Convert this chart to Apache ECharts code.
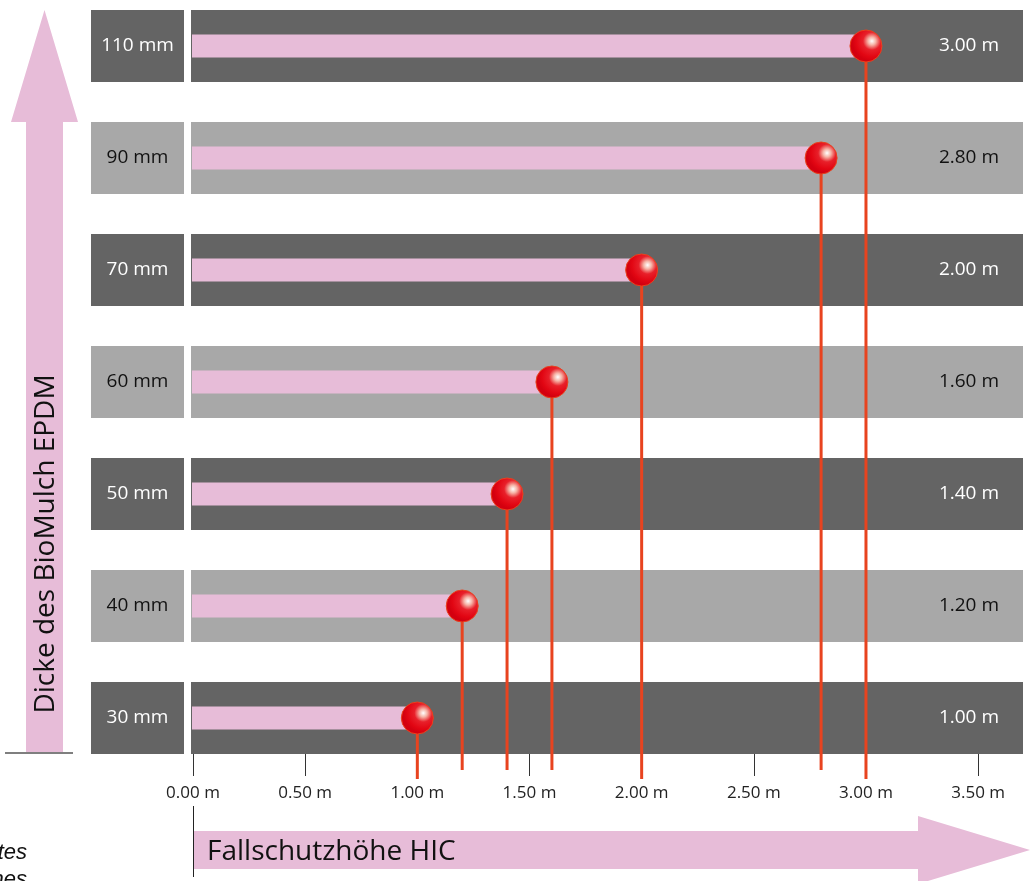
<!DOCTYPE html>
<html>
<head>
<meta charset="utf-8">
<script src="https://cdn.jsdelivr.net/npm/echarts@6/dist/echarts.min.js"></script>
<style>
html,body{margin:0;padding:0;background:#fff}
#chart{width:1034px;height:881px}
</style>
</head>
<body>
<div id="chart"></div>
<script>
// Dicke (von unten nach oben) und Fallschutzhöhe
var thickness=['30 mm','40 mm','50 mm','60 mm','70 mm','90 mm','110 mm'];
var fallHeight=[1.00,1.20,1.40,1.60,2.00,2.80,3.00];
var tickValues=[0,0.5,1,1.5,2,2.5,3,3.5];

var pink='#e7bcd8';
var dark='#646464', light='#a8a8a8';
var font='"Open Sans","Noto Sans",sans-serif';

var chart=echarts.init(document.getElementById('chart'));

var points=fallHeight.map(function(v,i){return [v,i];});

// Balken + Kugel + Lot
function renderMarker(params,api){
	var v=api.value(0), i=api.value(1);
	var p=api.coord([v,i]);
	var z=api.coord([0,i]);
	var cs=params.coordSys;
	var bottom=cs.y+cs.height;
	var onTick=Math.abs(v*2-Math.round(v*2))<1e-6;
	return {
		type:'group',
		children:[
			{type:'rect',shape:{x:z[0]-1,y:p[1]-11.5,width:p[0]-z[0]+1,height:23},style:{fill:pink}},
			{type:'line',shape:{x1:p[0],y1:p[1],x2:p[0],y2:onTick?bottom+5:bottom-4},style:{stroke:'#e8431f',lineWidth:3}},
			{type:'circle',shape:{cx:p[0],cy:p[1],r:16},style:{
				fill:new echarts.graphic.RadialGradient(0.68,0.35,0.6,[
					{offset:0,color:'#ffffff'},
					{offset:0.2,color:'#f6b3a6'},
					{offset:0.45,color:'#e8202a'},
					{offset:0.8,color:'#e20613'},
					{offset:1,color:'#d4000f'}
				]),
				stroke:'#e8431f',lineWidth:1
			}}
		]
	};
}

// graue Zeilenbänder mit Wert rechts
function renderRow(params,api){
	var v=api.value(0), i=api.value(1);
	var c=api.coord([0,i]);
	var cs=params.coordSys;
	var h=api.size([0,1])[1]*0.643;
	var isDark=i%2===0;
	return {
		type:'group',
		children:[
			{type:'rect',shape:{x:cs.x-2,y:c[1]-h/2,width:cs.width+2,height:h},style:{fill:isDark?dark:light}},
			{type:'text',x:cs.x+cs.width-24,y:c[1],style:{
				text:v.toFixed(2)+' m',fill:isDark?'#fff':'#111',
				font:'19px '+font,align:'right',verticalAlign:'middle'
			}}
		]
	};
}

var option={
	animation:false,
	grid:{left:193,top:-10,width:830,height:784,outerBoundsMode:'none',containLabel:false},
	xAxis:{
		type:'value',
		min:0,max:3.7,interval:0.5,
		offset:-20,
		axisLine:{show:false},
		splitLine:{show:false},
		axisTick:{
			show:true,customValues:tickValues,length:22,
			lineStyle:{color:'#333',width:1}
		},
		axisLabel:{
			customValues:tickValues,margin:31,
			color:'#222',fontSize:17,fontFamily:font,
			formatter:function(v){return v.toFixed(2)+' m';}
		}
	},
	yAxis:{
		type:'category',
		data:thickness,
		axisLine:{show:false},
		axisTick:{show:false},
		axisLabel:{
			margin:9,
			formatter:function(v,i){return i%2?'{l|'+v+'}':'{d|'+v+'}';},
			rich:{
				d:{backgroundColor:dark,color:'#fff',width:93,height:72,lineHeight:72,align:'center',fontSize:19,fontFamily:font},
				l:{backgroundColor:light,color:'#111',width:93,height:72,lineHeight:72,align:'center',fontSize:19,fontFamily:font}
			}
		}
	},
	series:[
		{type:'custom',name:'rows',data:points,renderItem:renderRow,z:1},
		{type:'custom',name:'HIC',data:points,renderItem:renderMarker,z:3}
	],
	graphic:[
		{type:'polygon',shape:{points:[[26,752],[26,122],[11,122],[44.5,10],[78,122],[63,122],[63,752]]},style:{fill:pink}},
		{type:'line',shape:{x1:5,y1:753,x2:73,y2:753},style:{stroke:'#555',lineWidth:1.5}},
		{type:'text',x:46,y:544,rotation:Math.PI/2,style:{
			text:'Dicke des BioMulch EPDM',font:'28px '+font,fill:'#111',
			align:'center',verticalAlign:'middle',textAlign:'center',textVerticalAlign:'middle'
		}},
		{type:'polygon',shape:{points:[[193,831],[918,831],[918,816],[1030,850],[918,884],[918,869],[193,869]]},style:{fill:pink}},
		{type:'line',shape:{x1:193.5,y1:806,x2:193.5,y2:877},style:{stroke:'#222',lineWidth:1}},
		{type:'text',x:207,y:852,style:{
			text:'Fallschutzhöhe HIC',font:'28px '+font,fill:'#111',
			align:'left',verticalAlign:'middle',textAlign:'left',textVerticalAlign:'middle'
		}},
		{type:'text',x:27,y:842,style:{
			text:'tes',font:'italic 22px "Liberation Sans",Arial,sans-serif',fill:'#111',
			align:'right',verticalAlign:'top',textAlign:'right',textVerticalAlign:'top'
		}},
		{type:'text',x:27,y:869,style:{
			text:'nes',font:'italic 22px "Liberation Sans",Arial,sans-serif',fill:'#111',
			align:'right',verticalAlign:'top',textAlign:'right',textVerticalAlign:'top'
		}}
	]
};
chart.setOption(option);
</script>
</body>
</html>
